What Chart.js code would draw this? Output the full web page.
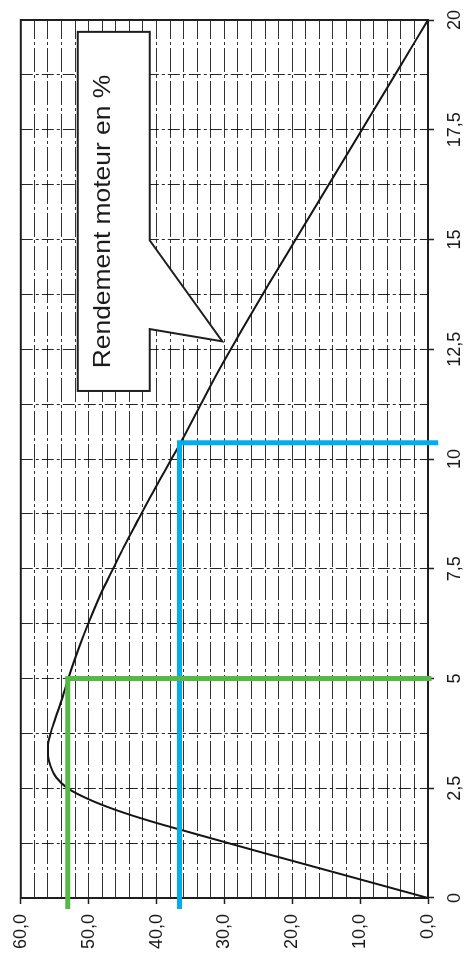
<!DOCTYPE html>
<html lang="fr">
<head>
<meta charset="utf-8">
<title>Rendement moteur en %</title>
<script src="https://cdn.jsdelivr.net/npm/chart.js@4.4.1/dist/chart.umd.min.js"></script>
<style>
  html, body { margin: 0; padding: 0; background: #fff; overflow: hidden; }
  #page { position: relative; width: 465px; height: 960px; overflow: hidden; }
  /* the chart is laid out landscape, then turned a quarter-turn counter-clockwise */
  #turn { position: absolute; left: 0; top: 0; width: 960px; height: 465px;
          transform-origin: 0 0; transform: translate(0, 960px) rotate(-90deg); }
  canvas { display: block; }
</style>
</head>
<body>
<div id="page"><div id="turn"><canvas id="c" width="960" height="465"></canvas></div></div>
<script>
// Motor efficiency (%) against load
const loadX = [0, 0.5, 1, 1.5, 1.75, 2, 2.25, 2.5, 2.75, 3, 3.25, 3.5, 3.75, 4, 4.5, 5, 5.5, 6, 6.5, 7,
               7.5, 8, 8.5, 9, 9.5, 10, 10.5, 11, 12, 13, 14, 15, 16, 17, 18, 19, 20];
const efficiency = [0, 11.8, 23.6, 35.2, 40.9, 45.9, 50.0, 53.1, 54.8, 55.6, 56.0, 56.0, 55.6, 55.1, 54.0, 53.0, 51.9, 50.7, 49.4, 48.0,
                    46.4, 44.8, 43.1, 41.4, 39.6, 37.8, 36.0, 34.3, 30.9, 27.2, 23.4, 19.5, 15.6, 11.7, 7.8, 3.9, 0];

// Two read-off points: load and the efficiency found there
const readLoad = [5, 10.37];
const readEff = [53.1, 36.6];
const readColors = ['#56b947', '#00aeef'];

// Labelled ticks
const xTickValues = [0, 2.5, 5, 7.5, 10, 12.5, 15, 17.5, 20];
const xTickLabels = ['0', '2,5', '5', '7,5', '10', '12,5', '15', '17,5', '20'];
const yTickValues = [0, 10, 20, 30, 40, 50, 60];
const yTickLabels = ['0,0', '10,0', '20,0', '30,0', '40,0', '50,0', '60,0'];

const labelFor = (vals, labels, v) => {
  const i = vals.findIndex(t => Math.abs(t - v) < 1e-6);
  return i >= 0 ? labels[i] : '';
};
const isLabelled = (vals, v) => vals.some(t => Math.abs(t - v) < 1e-6);

const curve = loadX.map((x, i) => ({ x, y: efficiency[i] }));

// read-off guides: across to the efficiency axis, down to the load axis (running a little past both)
const guideOverX = -0.25;
const guideOverY = [-0.5, -1.5];
const guides = readLoad.map((lx, i) => ({
  data: [
    { x: guideOverX, y: readEff[i] },
    { x: lx, y: readEff[i] },
    { x: lx, y: guideOverY[i] }
  ],
  borderColor: readColors[i],
  borderWidth: 5,
  borderJoinStyle: 'miter',
  borderCapStyle: 'butt',
  pointRadius: 0,
  showLine: true,
  tension: 0,
  clip: false
}));

const framePlugin = {
  id: 'frame',
  beforeDatasetsDraw(chart) {
    const { ctx, chartArea: a } = chart;
    ctx.save();
    ctx.strokeStyle = '#1f1f1f';
    ctx.lineWidth = 2;
    ctx.strokeRect(a.left, a.top, a.right - a.left, a.bottom - a.top);
    ctx.restore();
  }
};

const calloutPlugin = {
  id: 'callout',
  afterDatasetsDraw(chart, args, o) {
    const { ctx, scales: { x, y } } = chart;
    const px = v => x.getPixelForValue(v);
    const py = v => y.getPixelForValue(v);
    ctx.save();
    ctx.beginPath();
    ctx.moveTo(px(o.box[0]), py(o.box[3]));
    ctx.lineTo(px(o.box[1]), py(o.box[3]));
    ctx.lineTo(px(o.box[1]), py(o.box[2]));
    ctx.lineTo(px(o.arrowBase[1]), py(o.box[2]));
    ctx.lineTo(px(o.tip[0]), py(o.tip[1]));
    ctx.lineTo(px(o.arrowBase[0]), py(o.box[2]));
    ctx.lineTo(px(o.box[0]), py(o.box[2]));
    ctx.closePath();
    ctx.fillStyle = '#ffffff';
    ctx.fill();
    ctx.lineWidth = 2;
    ctx.lineJoin = 'miter';
    ctx.strokeStyle = '#1f1f1f';
    ctx.stroke();
    ctx.translate(px(o.textAt[0]), py(o.textAt[1]));
    ctx.scale(o.stretch, 1);
    ctx.font = o.font;
    ctx.fillStyle = '#1a1a1a';
    ctx.textAlign = 'center';
    ctx.textBaseline = 'alphabetic';
    ctx.fillText(o.text, 0, 0);
    ctx.restore();
  }
};

const tickFont = { family: '"Liberation Sans", Arial, sans-serif', size: 18 };

new Chart(document.getElementById('c'), {
  type: 'scatter',
  data: {
    datasets: [
      ...guides,
      {
        data: curve,
        borderColor: '#151515',
        borderWidth: 2,
        pointRadius: 0,
        showLine: true,
        cubicInterpolationMode: 'monotone'
      }
    ]
  },
  options: {
    responsive: false,
    animation: false,
    devicePixelRatio: 1,
    layout: { padding: { top: 19, right: 15, left: 0, bottom: 0 } },
    plugins: {
      legend: { display: false },
      tooltip: { enabled: false },
      callout: {
        text: 'Rendement moteur en %',
        box: [11.55, 19.73, 41.0, 51.6],
        arrowBase: [12.96, 14.98],
        tip: [12.68, 30.3],
        textAt: [15.41, 46.9],
        font: '24px "Liberation Sans", Arial, sans-serif',
        stretch: 1.1
      }
    },
    scales: {
      x: {
        type: 'linear',
        position: 'bottom',
        min: 0,
        max: 20,
        afterFit: s => { s.height = 37; },
        ticks: {
          stepSize: 1.25,
          autoSkip: false,
          maxRotation: 0,
          padding: 10,
          color: '#1a1a1a',
          font: tickFont,
          callback: v => labelFor(xTickValues, xTickLabels, v)
        },
        grid: {
          color: 'rgba(0,0,0,0.85)',
          lineWidth: 1,
          tickLength: 6,
          tickWidth: 1.5,
          tickColor: c => isLabelled(xTickValues, c.tick.value) ? '#1f1f1f' : 'rgba(0,0,0,0)',
          tickBorderDash: []
        },
        border: { display: true, color: '#1f1f1f', width: 2, dash: [12, 3, 3, 3] }
      },
      y: {
        type: 'linear',
        position: 'left',
        min: 0,
        max: 60,
        afterFit: s => { s.width = 62; },
        ticks: {
          stepSize: 2,
          autoSkip: false,
          padding: 10,
          color: '#1a1a1a',
          font: tickFont,
          callback: v => labelFor(yTickValues, yTickLabels, v)
        },
        grid: {
          color: 'rgba(0,0,0,0.8)',
          lineWidth: 1,
          tickLength: 6,
          tickWidth: 1.5,
          tickColor: c => isLabelled(yTickValues, c.tick.value) ? '#1f1f1f' : 'rgba(0,0,0,0)',
          tickBorderDash: []
        },
        border: { display: true, color: '#1f1f1f', width: 2, dash: [24, 3, 3, 3] }
      }
    }
  },
  plugins: [framePlugin, calloutPlugin]
});
</script>
</body>
</html>
